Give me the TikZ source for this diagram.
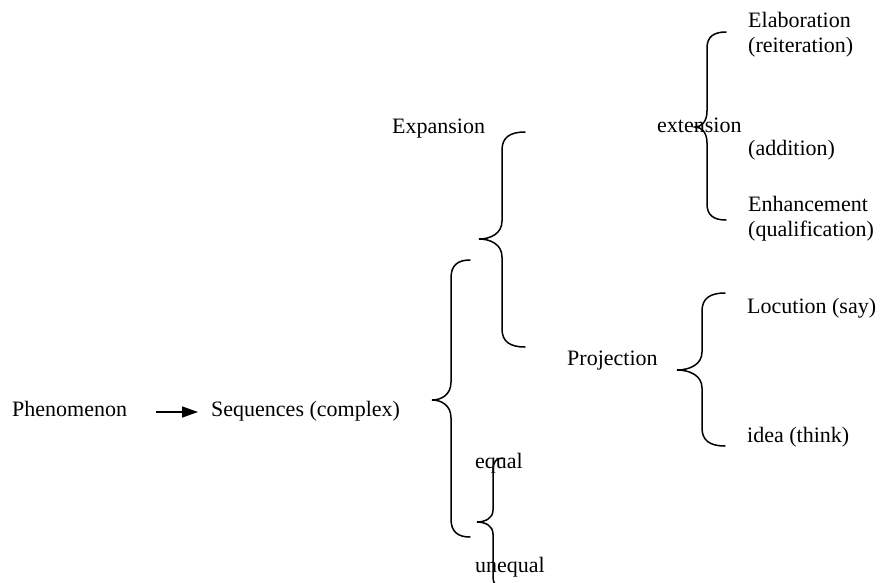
\documentclass[tikz,border=0pt]{standalone}
\usepackage{fontspec}
\setmainfont{Liberation Serif}
\usetikzlibrary{arrows.meta,calc}

% left curly brace: tip x, tip y, spine x, end x, top y, bottom y, bend
\newcommand\curlybrace[7]{%
  \draw[bracestroke] (#4,#5) .. controls ($(#3,#5)!0.35!(#4,#5)$) and (#3,#5+0.3*#7) .. (#3,#5+#7)
    -- (#3,#2-#7) .. controls (#3,#2-0.3*#7) and ($(#3,#2)!0.5!(#1,#2)$) .. (#1,#2)
    .. controls ($(#3,#2)!0.5!(#1,#2)$) and (#3,#2+0.3*#7) .. (#3,#2+#7)
    -- (#3,#6-#7) .. controls (#3,#6-0.3*#7) and ($(#3,#6)!0.35!(#4,#6)$) .. (#4,#6);}

\begin{document}
\begin{tikzpicture}[x=1pt,y=-1pt,
  label/.style={inner sep=0pt,anchor=base west,font=\fontsize{22}{26}\selectfont},
  bracestroke/.style={line width=1.5pt,line cap=round},
  pointer/.style={line width=1.4pt,-{Triangle[length=16pt,width=11pt]}}]
\useasboundingbox (0,0) rectangle (881,582);
\clip (0,0) rectangle (881,582);

% text
\node[label] (phen) at (12,416) {Phenomenon};
\node[label] (seq) at (211,416) {Sequences (complex)};
\node[label] (exp) at (392,133) {Expansion};
\node[label] (ext) at (657,132) {extension};
\node[label] (elab) at (748,27) {Elaboration};
\node[label] (reit) at (748,52) {(reiteration)};
\node[label] (add) at (748,155) {(addition)};
\node[label] (enh) at (748,211) {Enhancement};
\node[label] (qual) at (748,236) {(qualification)};
\node[label] (proj) at (567,365) {Projection};
\node[label] (loc) at (747,313) {Locution (say)};
\node[label] (idea) at (747,442) {idea (think)};
\node[label] (equal) at (475,468) {equal};
\node[label] (unequal) at (475,572) {unequal};

% arrow from Phenomenon to Sequences
\draw[pointer] ($(phen.base east)+(29,-4)$) -- ($(seq.base west)+(-13,-4)$);

% braces
\curlybrace{432}{400}{451}{470}{260}{537}{18}
\curlybrace{479}{239}{502}{525}{132}{347}{18}
\curlybrace{695}{127}{707}{726}{32}{220}{16}
\curlybrace{677}{370}{702}{725}{293}{446}{18}
\curlybrace{477}{522}{493}{503}{458}{588}{12}
\end{tikzpicture}
\end{document}
